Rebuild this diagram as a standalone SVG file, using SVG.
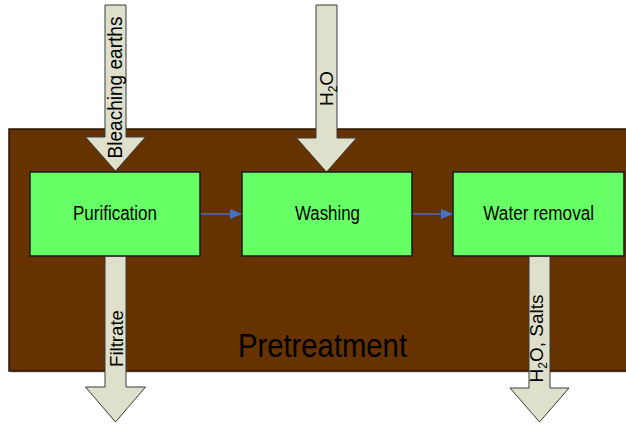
<svg xmlns="http://www.w3.org/2000/svg" width="626" height="425" viewBox="0 0 626 425">
<style>
.bg{fill:#663300;stroke:#2a1500;stroke-width:1.5}
.box{fill:#66ff66;stroke:#1a1a1a;stroke-width:1.5}
.big{fill:#dee0cc;stroke:#3a3a3a;stroke-width:1}
.lbl{font-family:"Liberation Sans",Arial,sans-serif;fill:#000}
.con{stroke:#4a6fb5;stroke-width:1.5;fill:none}
</style>
<defs>
<marker id="ah" viewBox="0 0 12 10" refX="12" refY="5" markerWidth="12" markerHeight="10" markerUnits="userSpaceOnUse" orient="auto">
<path d="M0,0 L12,5 L0,10 Z" fill="#4472c4"/>
</marker>
</defs>
<rect width="626" height="425" fill="#fff"/>
<g id="pretreatment">
<rect x="10.5" y="130.5" width="620" height="242" fill="#b0b0b0"/>
<rect class="bg" x="9" y="129" width="620" height="242"/>
<text class="lbl" x="322.5" y="356.5" font-size="34" text-anchor="middle" textLength="169" lengthAdjust="spacingAndGlyphs">Pretreatment</text>
</g>
<g id="connectors">
<line class="con" x1="200.5" y1="214" x2="242" y2="214" marker-end="url(#ah)"/>
<line class="con" x1="412.5" y1="214" x2="453" y2="214" marker-end="url(#ah)"/>
</g>
<g id="in-bleaching">
<polygon class="big" points="105,5 126,5 126,137 145.5,137 115.5,171 85.5,137 105,137"/>
<text class="lbl" transform="translate(121.5,87.5) rotate(-90)" font-size="20" text-anchor="middle" textLength="142" lengthAdjust="spacingAndGlyphs">Bleaching earths</text>
</g>
<g id="in-water">
<polygon class="big" points="316,5 337,5 337,138 356.5,138 326.5,172 296.5,138 316,138"/>
<text class="lbl" transform="translate(332.7,88.5) rotate(-90)" font-size="19" text-anchor="middle">H<tspan font-size="12" dy="4">2</tspan><tspan dy="-4">O</tspan></text>
</g>
<g id="purification">
<rect class="box" x="30" y="172" width="170" height="84"/>
<text class="lbl" x="115" y="219.5" font-size="20" text-anchor="middle" textLength="84" lengthAdjust="spacingAndGlyphs">Purification</text>
</g>
<g id="washing">
<rect class="box" x="242" y="172" width="170" height="84"/>
<text class="lbl" x="327.5" y="219.5" font-size="20" text-anchor="middle" textLength="65" lengthAdjust="spacingAndGlyphs">Washing</text>
</g>
<g id="water-removal">
<rect class="box" x="453" y="172" width="171" height="84"/>
<text class="lbl" x="538.7" y="219.5" font-size="20" text-anchor="middle" textLength="110.7" lengthAdjust="spacingAndGlyphs">Water removal</text>
</g>
<g id="out-filtrate">
<polygon class="big" points="105,256.5 126,256.5 126,387 145.5,387 115.5,422 85.5,387 105,387"/>
<text class="lbl" transform="translate(122.7,338.5) rotate(-90)" font-size="19" text-anchor="middle" textLength="57" lengthAdjust="spacingAndGlyphs">Filtrate</text>
</g>
<g id="out-salts">
<polygon class="big" points="529,256.5 550,256.5 550,388 569,388 539.5,422 510,388 529,388"/>
<text class="lbl" transform="translate(543,338.5) rotate(-90)" font-size="19" text-anchor="middle">H<tspan font-size="12" dy="4">2</tspan><tspan dy="-4">O, Salts</tspan></text>
</g>
</svg>
